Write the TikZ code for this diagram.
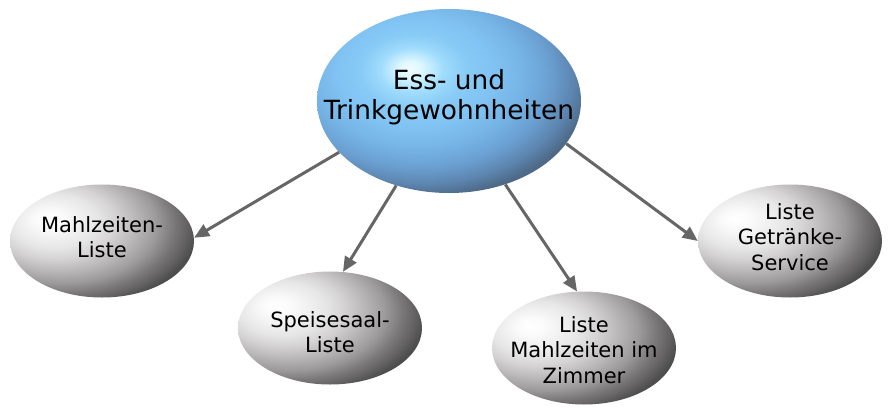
\documentclass[tikz,border=0pt]{standalone}
\usepackage{fontspec}
\setmainfont{DejaVu Sans}
\usetikzlibrary{shapes.geometric,arrows.meta}
\definecolor{bl0}{HTML}{F0FCFF}
\definecolor{bl1}{HTML}{E0F8FF}
\definecolor{bl2}{HTML}{A0DCFC}
\definecolor{bl3}{HTML}{88CBF6}
\definecolor{bl4}{HTML}{80C2F2}
\definecolor{bl5}{HTML}{76B4E6}
\definecolor{bl6}{HTML}{6A9ED0}
\definecolor{bl7}{HTML}{5C84AE}
\definecolor{bl8}{HTML}{4E6A88}
\definecolor{bl9}{HTML}{4A6580}
\definecolor{gy0}{HTML}{FFFFFF}
\definecolor{gy1}{HTML}{FAFAFA}
\definecolor{gy2}{HTML}{E6E6E6}
\definecolor{gy3}{HTML}{D6D4D4}
\definecolor{gy4}{HTML}{BAB8B8}
\definecolor{gy5}{HTML}{9C9A9A}
\definecolor{gy6}{HTML}{7A7878}
\definecolor{gy7}{HTML}{646262}
\definecolor{gy8}{HTML}{4E4E4E}
\definecolor{gy9}{HTML}{4A4A4A}
\definecolor{conncol}{HTML}{666666}
\pgfdeclareradialshading{bluesph}{\pgfpoint{-7.5bp}{9bp}}{color(0bp)=(bl0); color(2bp)=(bl1); color(6bp)=(bl2); color(10bp)=(bl3); color(15bp)=(bl4); color(20bp)=(bl5); color(25bp)=(bl6); color(29bp)=(bl7); color(32bp)=(bl8); color(100bp)=(bl9)}
\pgfdeclareradialshading{graysph}{\pgfpoint{-15bp}{10bp}}{color(0bp)=(gy0); color(4bp)=(gy1); color(12bp)=(gy2); color(16bp)=(gy3); color(21bp)=(gy4); color(26bp)=(gy5); color(30bp)=(gy6); color(33bp)=(gy7); color(35.5bp)=(gy8); color(100bp)=(gy9)}
\tikzset{
  bignode/.style={ellipse, shading=bluesph, minimum width=264pt, minimum height=184pt, inner sep=0pt, font=\fontsize{26.4}{30}\selectfont},
  smallnode/.style={ellipse, shading=graysph, minimum width=184pt, minimum height=113pt, inner sep=0pt, font=\fontsize{21}{25.5}\selectfont},
  conn/.style={draw=conncol, line width=3pt, -{Triangle[length=15pt,width=13pt]}}
}
\newcommand{\liftbox}[2]{\makebox[0pt]{\raisebox{#1}[0pt][0pt]{\begin{tabular}{@{}c@{}}#2\end{tabular}}}}
\begin{document}
\begin{tikzpicture}[x=1pt,y=-1pt]
\useasboundingbox (0,0) rectangle (893,412);
\node[bignode] (c) at (449,101) {\liftbox{-4pt}{Ess- und\\Trinkgewohnheiten}};
\node[smallnode] (m) at (102,241) {\liftbox{-4pt}{Mahlzeiten-\\Liste}};
\node[smallnode] (s) at (330,328) {\liftbox{-12pt}{Speisesaal-\\Liste}};
\node[smallnode] (z) at (584,348) {\liftbox{-10pt}{Liste\\Mahlzeiten im\\Zimmer}};
\node[smallnode] (g) at (790,241) {\liftbox{-4pt}{Liste\\Getränke-\\Service}};
\draw[conn] (c.205) -- (m.2);
\draw[conn] (c.238) -- (s.77);
\draw[conn] (c.304) -- (z.97);
\draw[conn] (c.340) -- (g.180);
\end{tikzpicture}
\end{document}
